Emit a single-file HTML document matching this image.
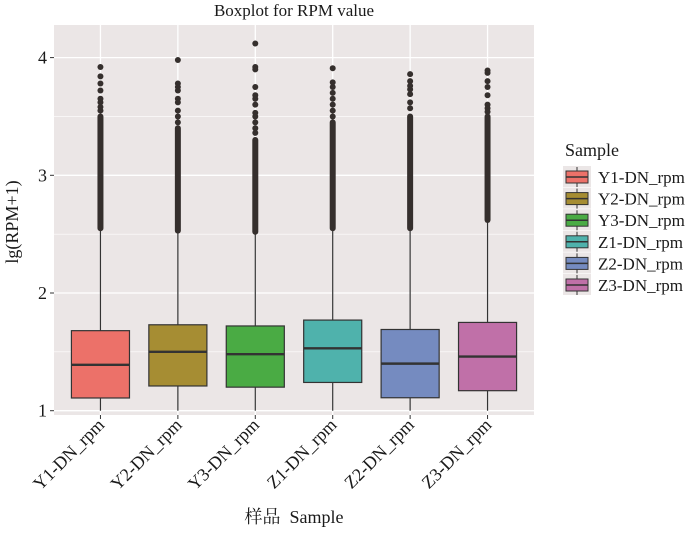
<!DOCTYPE html>
<html><head><meta charset="utf-8"><style>
html,body{margin:0;padding:0;background:#fff;}
svg text{font-family:"Liberation Serif","Noto Serif CJK SC",serif;fill:#1a1a1a;}
</style></head><body>
<svg id="chart" width="700" height="528" viewBox="0 0 700 528" xmlns="http://www.w3.org/2000/svg">
<rect x="54" y="25" width="480" height="390" fill="#ebe6e6"/>
<g id="grid"></g><g id="marks"></g><g id="axes"></g>
<text x="294" y="16" font-size="17" text-anchor="middle">Boxplot for RPM value</text>
<text transform="translate(18,222) rotate(-90)" font-size="18" text-anchor="middle">lg(RPM+1)</text>
<text x="294" y="523" font-size="18" text-anchor="middle">样品&#160;&#160;Sample</text>
<g id="legend"></g>
</svg>
<script>
const categories=["Y1-DN_rpm","Y2-DN_rpm","Y3-DN_rpm","Z1-DN_rpm","Z2-DN_rpm","Z3-DN_rpm"];
const q1=[1.108,1.21,1.20,1.24,1.11,1.17];
const medians=[1.39,1.50,1.48,1.53,1.40,1.46];
const q3=[1.68,1.73,1.72,1.77,1.69,1.75];
const whiskerLow=[1.0,1.0,1.0,1.0,1.0,1.0];
const whiskerHigh=[2.55,2.53,2.52,2.55,2.55,2.62];
const denseTop=[3.5,3.4,3.3,3.45,3.5,3.5];
const outliers=[
 [3.92,3.84,3.78,3.72,3.65,3.62,3.58,3.55],
 [3.98,3.78,3.75,3.72,3.65,3.62,3.55,3.50,3.45],
 [4.12,3.92,3.90,3.75,3.68,3.65,3.60,3.53,3.50,3.45,3.40,3.36],
 [3.91,3.79,3.75,3.70,3.65,3.60,3.55,3.50],
 [3.86,3.80,3.76,3.73,3.69,3.62,3.57],
 [3.89,3.87,3.80,3.75,3.68,3.60,3.57,3.54]
];
const yTicks=[1,2,3,4];
const colors=["#ec7169","#a68d33","#4aab44","#4fb2ac","#758bc0","#c070a8"];
const NS="http://www.w3.org/2000/svg";
const L=54,R=534,T=25,B=415;
const y=v=>410.7-(v-1)*117.7;
const step=(R-L)/(categories.length+0.2);
const x=i=>L+step*(i+0.6);
const bw=step*0.75;
function mk(tag,attrs,parent){const e=document.createElementNS(NS,tag);for(const k in attrs)e.setAttribute(k,attrs[k]);document.getElementById(parent).appendChild(e);return e;}
[1.5,2.5,3.5].forEach(v=>{const e=mk('line',{x1:L,x2:R,y1:y(v),y2:y(v),stroke:'#fff','stroke-width':0.6},'grid');

});
yTicks.forEach(v=>{const e=mk('line',{x1:L,x2:R,y1:y(v),y2:y(v),stroke:'#fff','stroke-width':1.3},'grid');


const t=mk('line',{x1:L-4,x2:L,y1:y(v),y2:y(v),stroke:'#333','stroke-width':1},'axes');


const lb=mk('text',{x:L-7,y:y(v)+6,'font-size':18,'text-anchor':'end'},'axes');lb.textContent=v;

});
categories.forEach((c,i)=>{const cx=x(i);
const g=mk('line',{x1:cx,x2:cx,y1:T,y2:B,stroke:'#fff','stroke-width':1.3},'grid');


const t=mk('line',{x1:cx,x2:cx,y1:B,y2:B+4,stroke:'#333','stroke-width':1},'axes');


const lb=mk('text',{transform:`translate(${cx+5},${B+11}) rotate(-45)`,'font-size':18,'text-anchor':'end'},'axes');lb.textContent=c;


const w=mk('line',{x1:cx,x2:cx,y1:y(whiskerLow[i]),y2:y(whiskerHigh[i]),stroke:'#333','stroke-width':1.2},'marks');


const d=mk('rect',{x:cx-3,y:y(denseTop[i])-3,width:6,height:y(whiskerHigh[i])-y(denseTop[i])+6,rx:3,fill:'#352f2d'},'marks');


outliers[i].forEach(v=>{const p=mk('circle',{cx:cx,cy:y(v),r:3,fill:'#352f2d'},'marks');

});
const b=mk('rect',{x:cx-bw/2,y:y(q3[i]),width:bw,height:y(q1[i])-y(q3[i]),fill:colors[i],stroke:'#333','stroke-width':1.2},'marks');


const m=mk('line',{x1:cx-bw/2,x2:cx+bw/2,y1:y(medians[i]),y2:y(medians[i]),stroke:'#333','stroke-width':2.4},'marks');


const ly=177+i*21.6;
const kb=mk('rect',{x:563,y:ly-11,width:28,height:21,fill:'#ebe6e6'},'legend');


const kl=mk('line',{x1:577,x2:577,y1:ly-10,y2:ly+10,stroke:'#333','stroke-width':1},'legend');


const kr=mk('rect',{x:566,y:ly-6,width:22,height:12,fill:colors[i],stroke:'#333','stroke-width':1},'legend');


const km=mk('line',{x1:566,x2:588,y1:ly,y2:ly,stroke:'#333','stroke-width':1.5},'legend');


const lt=mk('text',{x:598,y:ly+6,'font-size':17},'legend');lt.textContent=c;


});
const tt=mk('text',{x:565,y:156,'font-size':18},'legend');tt.textContent='Sample';


</script>
</body></html>
